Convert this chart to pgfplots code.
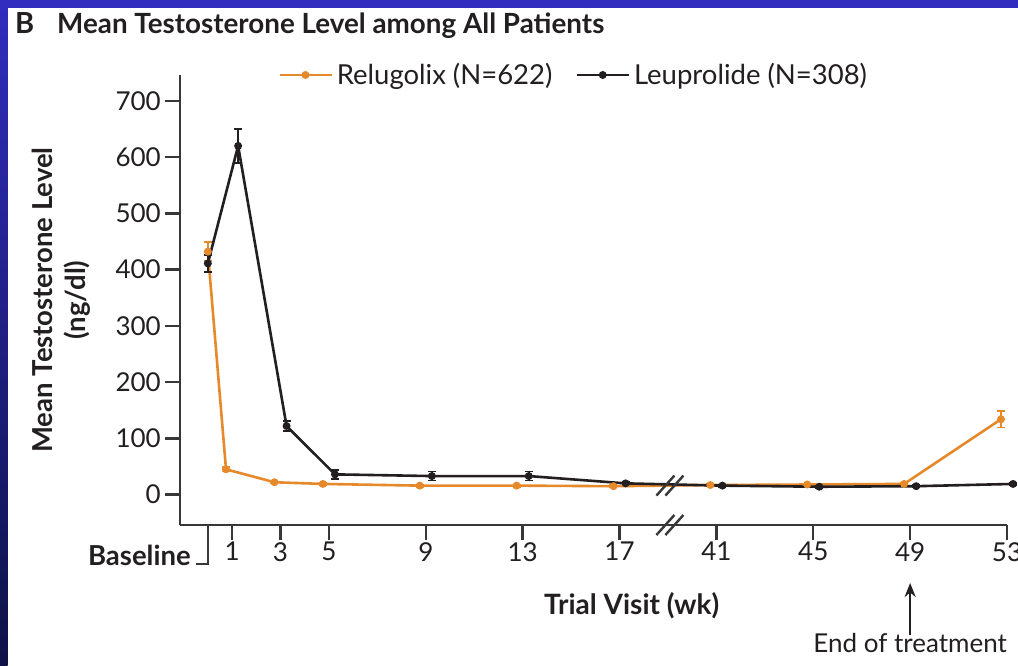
\documentclass[border=0pt]{standalone}
\usepackage{pgfplots}
\pgfplotsset{compat=1.18}
\usepackage{fontspec}
\setmainfont{Lato}
\usetikzlibrary{arrows.meta}
\definecolor{relu}{RGB}{230,137,42}
\definecolor{leup}{RGB}{35,31,32}
\definecolor{axgray}{RGB}{55,55,55}
\definecolor{topblue}{RGB}{50,45,190}
\definecolor{botblue}{RGB}{14,18,70}
\definecolor{txt}{RGB}{35,31,32}
\begin{document}
\begin{tikzpicture}
\useasboundingbox (0pt,0pt) rectangle (1018pt,665pt);
\fill[white] (0pt,0pt) rectangle (1018pt,665pt);
\fill[topblue] (0pt,657pt) rectangle (1018pt,665pt);
\shade[top color=topblue,bottom color=botblue] (0pt,0pt) rectangle (7.5pt,665pt);
\node[anchor=base west, inner sep=0pt, text=txt, font=\bfseries\fontsize{29}{32}\selectfont] at (15pt,631pt) {B};
\node[anchor=base west, inner sep=0pt, text=txt, font=\bfseries\fontsize{27.8}{32}\selectfont] at (57pt,631pt) {Mean Testosterone Level among All Patients};
\node[rotate=90, align=center, text=txt, font=\bfseries\fontsize{27.5}{33}\selectfont] at (61pt,365pt) {Mean Testosterone Level\\(ng/dl)};
\begin{axis}[
  at={(180pt,140pt)}, anchor=south west,
  scale only axis, width=827pt, height=450pt,
  xmin=-1.15, xmax=33, ymin=-54, ymax=746,
  clip=false,
  axis lines*=left,
  axis line style={axgray, line width=2.6pt},
  every tick/.style={axgray, line width=2.4pt},
  tick align=outside, major tick length=15pt,
  xtick={1,3,5,9,13,17,21,25,29,33},
  xticklabels={1,3,5,9,13,17,41,45,49,53},
  ytick={0,100,200,300,400,500,600,700},
  /pgf/number format/assume math mode=true,
  ticklabel style={font=\fontsize{26}{30}\selectfont, text=txt},
  xticklabel style={inner sep=2pt},
  yticklabel style={inner sep=4pt},
  legend columns=2,
  legend cell align=left,
  legend style={draw=none, fill=none, at={(0.1185,1.0)}, anchor=west,
    font=\fontsize{27.5}{30}\selectfont, text=txt, inner sep=0pt,
    nodes={inner sep=4pt},
    /tikz/every even column/.append style={column sep=19pt}},
  legend image code/.code={\draw[mark repeat=2,mark phase=2,#1] plot coordinates {(0pt,0pt) (26pt,0pt) (52pt,0pt)};},
  error bars/error bar style={line width=1.6pt},
  error bars/error mark options={rotate=90, mark size=4pt, line width=1.6pt},
]
\addplot[relu, line width=2.6pt, mark=*, mark size=2.6pt,
  error bars/.cd, y dir=both, y explicit] coordinates {
  (0,432) +- (0,17)
  (0.75,45) +- (0,4)
  (2.75,22) +- (0,2)
  (4.75,19) +- (0,2)
  (8.75,16) +- (0,2)
  (12.75,16) +- (0,2)
  (16.75,15) +- (0,2)
  (20.75,17) +- (0,2)
  (24.75,18) +- (0,2)
  (28.75,19) +- (0,2)
  (32.75,134) +- (0,15)
};
\addlegendentry{Relugolix (N=622)}
\addplot[leup, line width=2.6pt, mark=*, mark size=2.6pt,
  error bars/.cd, y dir=both, y explicit] coordinates {
  (0,411) +- (0,15)
  (1.25,620) +- (0,30)
  (3.25,122) +- (0,9)
  (5.25,36) +- (0,8)
  (9.25,33) +- (0,8)
  (13.25,33) +- (0,8)
  (17.25,20) +- (0,2)
  (21.25,16) +- (0,2)
  (25.25,14) +- (0,2)
  (29.25,15) +- (0,2)
  (33.25,19) +- (0,2)
};
\addlegendentry{Leuprolide (N=308)}
% baseline tick with hook
\draw[axgray, line width=2.4pt] (axis cs:0,-54) -- ++(0pt,-39pt) -- ++(-12pt,0pt);
\node[anchor=base east, inner sep=0pt, text=txt, font=\bfseries\fontsize{27.5}{30}\selectfont] at ([shift={(-17pt,-40pt)}]axis cs:0,-54) {Baseline};
% axis break marks
\draw[axgray, line width=2.4pt] ([shift={(-14pt,-10pt)}]axis cs:19.1,-54) -- ++(18pt,20pt);
\draw[axgray, line width=2.4pt] ([shift={(-5pt,-10pt)}]axis cs:19.1,-54) -- ++(18pt,20pt);
\draw[axgray, line width=2.4pt] ([shift={(-14pt,-10pt)}]axis cs:19.1,16) -- ++(18pt,20pt);
\draw[axgray, line width=2.4pt] ([shift={(-5pt,-10pt)}]axis cs:19.1,16) -- ++(18pt,20pt);
% x label
\node[anchor=center, text=txt, font=\bfseries\fontsize{28}{30}\selectfont] at ([shift={(0pt,-81pt)}]axis cs:17.5,-54) {Trial Visit (wk)};
% end of treatment arrow
\draw[txt, line width=2.4pt, -{Stealth[length=14pt,width=11pt]}] ([shift={(0pt,-110pt)}]axis cs:29,-54) -- ([shift={(0pt,-58pt)}]axis cs:29,-54);
\node[anchor=center, text=txt, font=\fontsize{26}{30}\selectfont] at ([shift={(0pt,-118pt)}]axis cs:29,-54) {End of treatment};
\end{axis}
\end{tikzpicture}
\end{document}
